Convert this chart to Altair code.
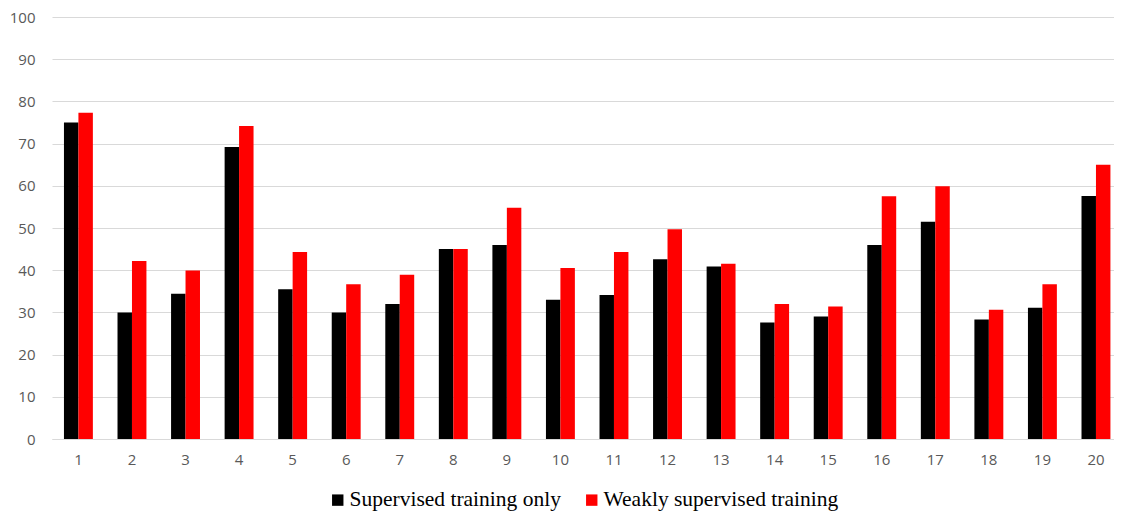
import altair as alt
import pandas as pd

categories = [str(i) for i in range(1, 21)]
supervised = [75.0, 30.0, 34.4, 69.2, 35.5, 30.0, 32.0, 45.0, 46.0, 33.0,
              34.1, 42.6, 40.9, 27.6, 29.0, 46.0, 51.5, 28.3, 31.1, 57.6]
weakly = [77.3, 42.2, 39.9, 74.2, 44.3, 36.7, 38.9, 45.0, 54.8, 40.5,
          44.3, 49.7, 41.5, 32.0, 31.4, 57.5, 59.9, 30.6, 36.7, 65.0]
series_names = ["Supervised training only", "Weakly supervised training"]
series_colors = ["#000000", "#FF0000"]

rows = []
for c, a, b in zip(categories, supervised, weakly):
    rows.append({"cat": c, "series": series_names[0], "value": a})
    rows.append({"cat": c, "series": series_names[1], "value": b})
df = pd.DataFrame(rows)

axis_font = "Open Sans"

chart = alt.Chart(df).mark_bar().encode(
    x=alt.X("cat:N", sort=categories, title=None,
            scale=alt.Scale(paddingInner=0.46, paddingOuter=0.145, align=0.77),
            axis=alt.Axis(labelAngle=0, ticks=False, domain=True, domainColor="#d9d9d9",
                          labelFont=axis_font, labelFontSize=15, labelColor="#595959",
                          labelPadding=13, grid=False)),
    xOffset=alt.XOffset("series:N", sort=series_names, scale=alt.Scale(paddingInner=0, paddingOuter=0)),
    y=alt.Y("value:Q", title=None,
            scale=alt.Scale(domain=[0, 100], nice=False),
            axis=alt.Axis(values=list(range(0, 101, 10)), ticks=False, domain=False,
                          gridColor="#d9d9d9", gridWidth=1.2,
                          labelFont=axis_font, labelFontSize=15, labelColor="#595959",
                          labelPadding=17)),
    color=alt.Color("series:N", sort=series_names,
                    scale=alt.Scale(domain=series_names, range=series_colors),
                    legend=alt.Legend(title=None, orient="none", direction="horizontal",
                                      legendX=275, legendY=472,
                                      symbolType="square", symbolSize=130,
                                      symbolStrokeWidth=0, symbolOpacity=1,
                                      labelFont="Liberation Serif", labelFontSize=21.5,
                                      labelColor="#000000", labelOffset=1, labelLimit=0,
                                      columnPadding=20)),
).properties(
    width=1062,
    height=422,
    autosize=alt.AutoSizeParams(type="none"),
    padding={"left": 44, "top": 9, "right": 0, "bottom": 72},
).configure_view(stroke=None)

chart.save("out.html", embed_options={"renderer": "svg", "actions": False})
